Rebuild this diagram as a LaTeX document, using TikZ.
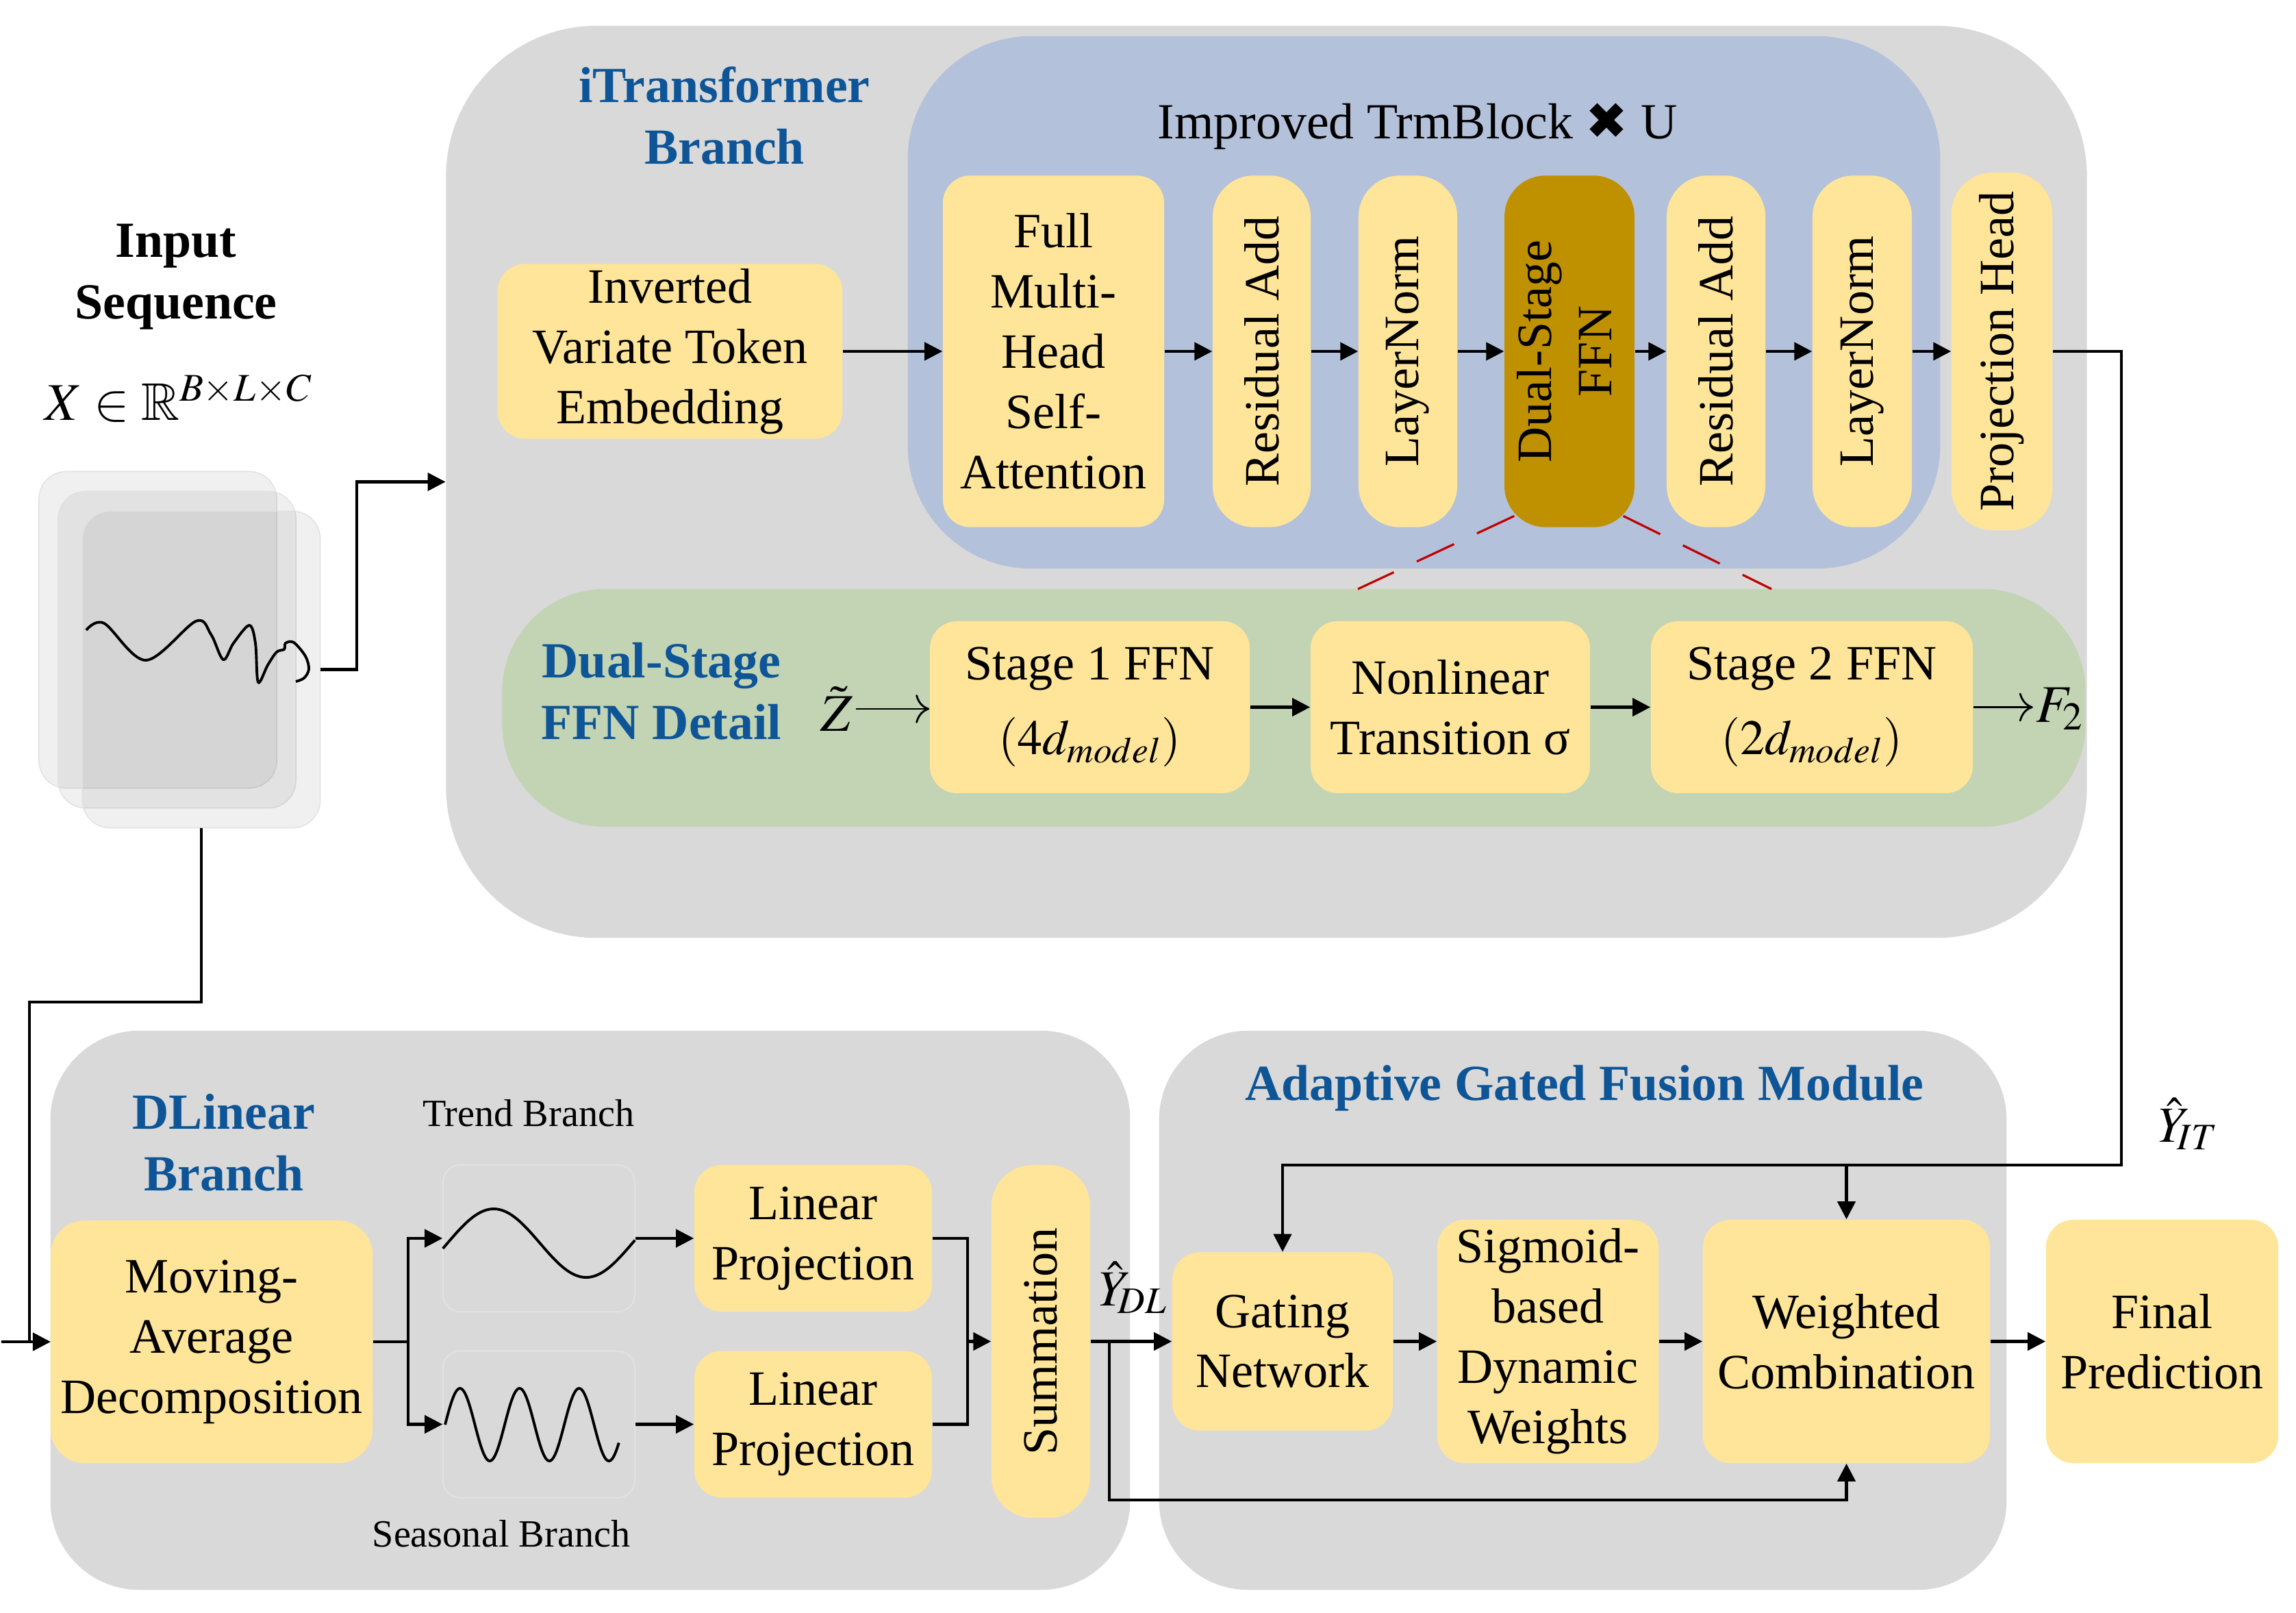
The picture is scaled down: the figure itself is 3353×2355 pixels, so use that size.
\documentclass[tikz,border=0pt]{standalone}
\usepackage{amsmath,amssymb}
\usepackage{mathptmx}
\usepackage{fontspec}
\setmainfont{Liberation Serif}
\newfontfamily\symfont{DejaVu Sans}
\usetikzlibrary{positioning,arrows.meta,calc}
\definecolor{panelgray}{HTML}{D9D9D9}
\definecolor{boxyellow}{HTML}{FFE599}
\definecolor{blockblue}{HTML}{B4C1DA}
\definecolor{detailgreen}{HTML}{C2D4B4}
\definecolor{ffngold}{HTML}{BF9000}
\definecolor{titleblue}{HTML}{0E5597}
\definecolor{linkred}{HTML}{C00000}
\newcommand{\vtext}[1]{\rotatebox{90}{#1}}

\begin{document}
\begin{tikzpicture}[x=0.01cm, y=-0.01cm,
  panel/.style={fill=panelgray, rounded corners=1.3cm, inner sep=0pt},
  box/.style={fill=boxyellow, rounded corners=4mm, align=center, inner sep=2pt, font=\fontsize{20.5}{25}\selectfont},
  ttl/.style={text=titleblue, font=\fontsize{21}{25.5}\selectfont\bfseries, align=center, inner sep=1pt},
  sheet/.style={draw=black!12, fill=black, fill opacity=0.06, rounded corners=4mm, minimum width=3.47cm, minimum height=4.62cm},
  plotbox/.style={draw=black!10, rounded corners=2.5mm, minimum width=2.8cm, minimum height=2.14cm},
  arr/.style={-{Triangle[length=2.6mm, width=2.6mm]}, line width=1.2pt},
  thinarr/.style={-{To[length=2mm]}, line width=0.8pt},
  lnk/.style={line width=1.2pt},
  mth/.style={font=\fontsize{22}{26}\selectfont, inner sep=1pt}]
\useasboundingbox (0,0) rectangle (3353,2355);

% panels
\node[panel, rounded corners=2.2cm, minimum width=23.95cm, minimum height=13.31cm] (itb) at (1849.5,703.5) {};
\node[panel, fill=blockblue, rounded corners=1.8cm, minimum width=15.07cm, minimum height=7.77cm] (tb) at (2079.5,441.5) {};
\node[panel, fill=detailgreen, rounded corners=1.5cm, minimum width=23.11cm, minimum height=3.47cm] (gb) at (1889.5,1033.5) {};
\node[panel, minimum width=15.76cm, minimum height=8.16cm] (dlb) at (862,1913) {};
\node[panel, minimum width=12.37cm, minimum height=8.16cm] (agb) at (2311.5,1913) {};

% titles
\node[ttl] (itt) at (1058,169) {iTransformer\\Branch};
\node[font=\fontsize{21}{25.5}\selectfont] (tbt) at (2070,185) {Improved TrmBlock {\symfont ✖} U};
\node[ttl] (gbt) at (966,1009) {Dual-Stage\\FFN Detail};
\node[ttl] (dlt) at (327,1668) {DLinear\\Branch};
\node[ttl] (agt) at (2314,1589) {Adaptive Gated Fusion Module};

% input
\node[font=\fontsize{21}{25.5}\selectfont\bfseries, align=center] (inT) at (257,404) {Input\\Sequence};
\node[mth, font=\fontsize{22}{26}\selectfont] (inX) at (261,582) {$X\in\mathbb{R}^{B\times L\times C}$};
\node[sheet] (s1) at (230.5,919.5) {};
\node[sheet] (s2) at (258.5,948.5) {};
\node[sheet] (s3) at (294,977.5) {};
\draw[line width=1.1pt] plot[smooth, tension=0.55] coordinates {(126,920) (152,910) (213,964) (286,907) (308,926) (326,963) (341,939) (364,913) (373,939) (377,996) (391,971) (404,952) (415,948) (417,939) (429,938) (446,958) (451,977) (444,990) (432,995)};
\draw[arr] (s3.east) -- ++(53,0) |- (itb.west);
\draw[arr] (s3.south) |- ++(-251,254) |- (2,1959) -- (74,1959);

% trm block
\node[box, minimum width=5.03cm, minimum height=2.5cm] (emb) at (978.5,513) {Inverted\\Variate Token\\Embedding};
\node[box, minimum width=3.23cm, minimum height=5.13cm] (mhsa) at (1538.5,513) {Full\\Multi-\\Head\\Self-\\Attention};
\node[box, rounded corners=6mm, minimum width=1.43cm, minimum height=5.13cm] (ra1) at (1842.5,513) {\vtext{Residual Add}};
\node[box, rounded corners=6mm, minimum width=1.44cm, minimum height=5.13cm] (ln1) at (2056,513) {\vtext{LayerNorm}};
\node[box, fill=ffngold, rounded corners=6mm, minimum width=1.88cm, minimum height=5.13cm] (dsf) at (2292,513) {\vtext{\begin{tabular}{@{}c@{}}Dual-Stage\\FFN\end{tabular}}};
\node[box, rounded corners=6mm, minimum width=1.44cm, minimum height=5.13cm] (ra2) at (2506,513) {\vtext{Residual Add}};
\node[box, rounded corners=6mm, minimum width=1.45cm, minimum height=5.13cm] (ln2) at (2719.5,513) {\vtext{LayerNorm}};
\node[box, rounded corners=6mm, minimum width=1.47cm, minimum height=5.22cm] (ph) at (2923.5,513) {\vtext{Projection Head}};
\foreach \a/\b in {emb/mhsa, mhsa/ra1, ra1/ln1, ln1/dsf, dsf/ra2, ra2/ln2, ln2/ph}
  \draw[arr] (\a.east) -- (\b.west);

% link to detail
\coordinate (dl) at (1983,860);
\coordinate (dr) at (2587,860);
\draw[linkred, line width=0.9pt, dash pattern=on 0.6cm off 0.37cm] ($(dsf.south west)+(15,-17)$) -- (dl);
\draw[linkred, line width=0.9pt, dash pattern=on 0.6cm off 0.37cm] ($(dsf.south east)+(-17,-17)$) -- (dr);

% dual-stage detail
\node[mth] (zt) at (1222,1035) {$\tilde{Z}$};
\node[box, minimum width=4.67cm, minimum height=2.51cm] (st1) at (1591.5,1032.5) {Stage 1 FFN\\[6pt]$\left(4d_{model}\right)$};
\node[box, minimum width=4.08cm, minimum height=2.51cm] (nlt) at (2118,1032.5) {Nonlinear\\Transition σ};
\node[box, minimum width=4.7cm, minimum height=2.51cm] (st2) at (2646,1032.5) {Stage 2 FFN\\[6pt]$\left(2d_{model}\right)$};
\node[mth] (f2) at (3008,1035) {$F_2$};
\draw[thinarr] (zt.east) -- (zt.east -| st1.west);
\draw[arr] (st1) -- (nlt);
\draw[arr] (nlt) -- (st2);
\draw[thinarr] (st2.east) -- (st2.east -| f2.west);

% dlinear
\node[box, rounded corners=5mm, minimum width=4.7cm, minimum height=3.54cm] (mad) at (309,1959) {Moving-\\Average\\Decomposition};
\node[font=\fontsize{16}{19}\selectfont] (trl) at (772,1625) {Trend Branch};
\node[font=\fontsize{16}{19}\selectfont] (sel) at (732,2239) {Seasonal Branch};
\node[plotbox] (tp) at (787,1808) {};
\node[plotbox] (sp) at (787,2079.5) {};
\draw[line width=1.1pt] plot[domain=-9:365, samples=80] ({721+(\x-90)*0.75}, {1815-50*sin(\x)});
\draw[line width=1.1pt] plot[domain=0:1050, samples=150] ({650+\x/360*87}, {2080-53*sin(\x)});
\node[box, minimum width=3.47cm, minimum height=2.14cm] (lp1) at (1187.5,1808) {Linear\\Projection};
\node[box, minimum width=3.47cm, minimum height=2.14cm] (lp2) at (1187.5,2079.5) {Linear\\Projection};
\node[box, rounded corners=6mm, minimum width=1.44cm, minimum height=5.15cm] (sum) at (1520,1958.5) {\vtext{Summation}};
\draw[arr] (mad.east) -- ++(51,0) |- (tp.west);
\draw[arr] (mad.east) -- ++(51,0) |- (sp.west);
\draw[arr] (tp.east) -- (lp1.west);
\draw[arr] (sp.east) -- (lp2.west);
\coordinate (jn) at (1413,1958.5);
\draw[lnk] (lp1.east) -| (jn);
\draw[lnk] (lp2.east) -| (jn);
\draw[arr] (jn) -- (sum.west);

% fusion
\node[box, minimum width=3.22cm, minimum height=2.6cm] (gate) at (1873,1958.5) {Gating\\Network};
\node[box, minimum width=3.23cm, minimum height=3.55cm] (sig) at (2260.5,1958.5) {Sigmoid-\\based\\Dynamic\\Weights};
\node[box, minimum width=4.19cm, minimum height=3.55cm] (wc) at (2696.5,1958.5) {Weighted\\Combination};
\node[box, minimum width=3.39cm, minimum height=3.55cm] (fp) at (3157.5,1958.5) {Final\\Prediction};
\node[mth, font=\fontsize{21}{25}\selectfont] (ydl) at (1655,1880) {$\hat{Y}_{\!DL}$};
\node[mth, font=\fontsize{21}{25}\selectfont] (yitl) at (3196,1641) {$\hat{Y}_{\!IT}$};
\draw[arr] (sum.east) -- (gate.west);
\draw[arr] (gate) -- (sig);
\draw[arr] (sig) -- (wc);
\draw[arr] (wc) -- (fp);
\draw[arr] ($(sum.east)+(27,0)$) |- ($(wc.south)+(0,53)$) -- (wc.south);
\coordinate (yit) at (3098,1701);
\draw[arr] (ph.east) -| (yit) -| (gate.north);
\draw[arr] (wc.north |- yit) -- (wc.north);
\end{tikzpicture}
\end{document}
